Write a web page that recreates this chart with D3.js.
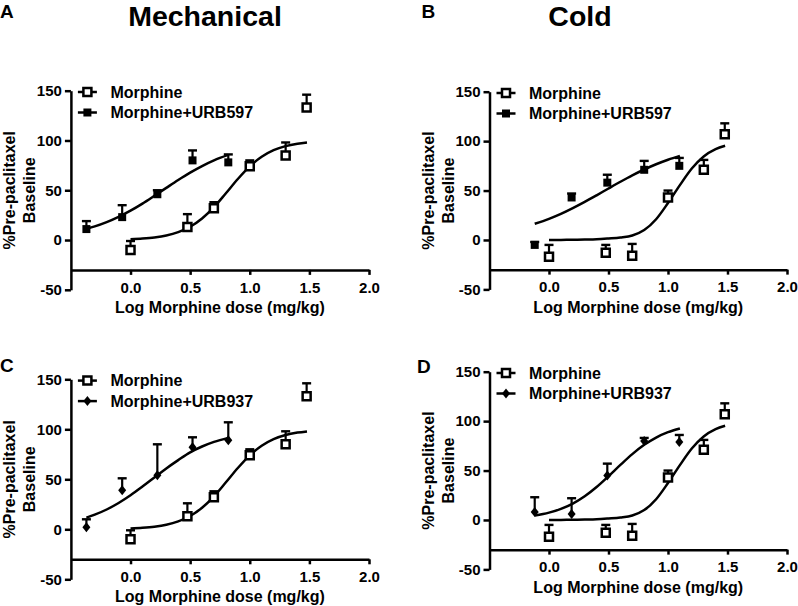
<!DOCTYPE html>
<html><head><meta charset="utf-8">
<script src="https://cdn.jsdelivr.net/npm/d3@7"></script>
<style>
body{margin:0;background:#fff;}
svg text{font-family:"Liberation Sans",Arial,Helvetica,sans-serif;font-weight:bold;fill:#000;}
</style></head><body>
<svg id="c" width="798" height="606"></svg>
<script>
// ---------- data ----------
const xTicks = [0, 0.5, 1.0, 1.5, 2.0];
const yTicks = [-50, 0, 50, 100, 150];
const panelLetters = ["A", "B", "C", "D"];
const columnTitles = ["Mechanical", "Cold"];
const seriesNames = ["Morphine", "Morphine+URB597", "Morphine+URB937"];

const morphDose = [0, 0.477, 0.699, 1.0, 1.301, 1.477];
const mechMorph = [-10, 13, 32, 74, 85, 133];
const mechMorphErr = [9, 13, 6, 6, 13, 13];
const mechMorphFitX = [0, 0.1, 0.2, 0.3, 0.4, 0.5, 0.6, 0.7, 0.8, 0.9, 1.0, 1.1, 1.2, 1.3, 1.4, 1.48];
const mechMorphFitY = [0.8, 1.5, 2.6, 4.5, 7.9, 13.3, 21.6, 33, 47, 61.3, 74, 83.6, 90.2, 94.3, 96.7, 97.9];

const mechComboDose = [-0.37, -0.07, 0.225, 0.52, 0.82];
const mechURB597 = [11, 23, 46, 80, 78];
const mechURB597Err = [8, 12, 4, 10, 8];
const mechComboFitX = [-0.37, -0.3, -0.2, -0.1, 0, 0.1, 0.2, 0.3, 0.4, 0.5, 0.6, 0.7, 0.82];
const mechURB597FitY = [11.3, 13.7, 18.0, 23.3, 29.5, 36.6, 44.4, 52.4, 60.3, 67.7, 74.3, 80.0, 85.5];
const mechURB937 = [2, 39, 54, 82, 89];
const mechURB937Err = [8, 12, 31, 10, 18];
const mechURB937FitY = [11.6, 14.6, 19.8, 26.3, 34.0, 42.7, 51.8, 60.9, 69.2, 77.0, 82.8, 87.4, 91.4];

const coldMorph = [-17, -13, -16, 43, 71, 107];
const coldMorphErr = [12, 8, 12, 7, 10, 11];
const coldMorphFitX = [0, 0.1, 0.2, 0.3, 0.4, 0.5, 0.6, 0.7, 0.8, 0.9, 1.0, 1.1, 1.2, 1.3, 1.4, 1.48];
const coldMorphFitY = [0, 0.1, 0.2, 0.4, 0.7, 1.5, 2.5, 4.5, 10, 21, 37.4, 55.5, 72.3, 84.5, 91.9, 95.3];

const coldComboDose = [-0.12, 0.19, 0.49, 0.80, 1.095];
const coldURB597 = [-5, 43, 58, 71, 75];
const coldURB597Err = [3, 4, 8, 9, 8];
const coldComboFitX = [-0.12, 0, 0.1, 0.2, 0.3, 0.4, 0.5, 0.6, 0.7, 0.8, 0.9, 1.0, 1.1];
const coldURB597FitY = [16.4, 21.4, 26.4, 32.2, 38.5, 45.2, 52.1, 58.9, 65.4, 71.3, 76.6, 81.2, 85.1];
const coldURB937 = [8, 6, 45, 80, 79];
const coldURB937Err = [15, 16, 12, 3, 7];
const coldURB937FitY = [4.4, 7.4, 11.2, 16.6, 24.0, 33.4, 44.3, 55.7, 66.6, 76.0, 83.4, 88.8, 92.6];

// ---------- drawing ----------
const svg = d3.select("#c");
const SW = 2.5;

function markerPath(type) {
  if (type === "diamond") return "M0,-5L4,0L0,5L-4,0Z";
  return "M-4,-4H4V4H-4Z";
}

function drawMarker(g, type, cx, cy) {
  const p = g.append("path").attr("d", markerPath(type))
    .attr("transform", `translate(${cx},${cy})`);
  if (type === "open") p.attr("fill", "#fff").attr("stroke", "#000").attr("stroke-width", SW);
  else p.attr("fill", "#000").attr("stroke", "none");
}

function drawSeries(g, x, y, xs, ys, errs, fitX, fitY, type) {
  const line = d3.line().x((d, i) => x(fitX[i])).y(d => y(d)).curve(d3.curveMonotoneX);
  g.append("path").datum(fitY).attr("d", line)
    .attr("fill", "none").attr("stroke", "#000").attr("stroke-width", SW);
  xs.forEach((xv, i) => {
    const px = x(xv), py = y(ys[i]), pe = y(ys[i] + errs[i]);
    g.append("line").attr("x1", px).attr("x2", px).attr("y1", py).attr("y2", pe)
      .attr("stroke", "#000").attr("stroke-width", 2.2);
    g.append("line").attr("x1", px - 4.5).attr("x2", px + 4.5).attr("y1", pe).attr("y2", pe)
      .attr("stroke", "#000").attr("stroke-width", 2.4);
  });
  xs.forEach((xv, i) => drawMarker(g, type, x(xv), y(ys[i])));
}

function panel(cfg) {
  const g = svg.append("g");
  const x = d3.scaleLinear().domain([-0.5, 2]).range(cfg.xr);
  const y = d3.scaleLinear().domain([-50, 150]).range(cfg.yr);

  const ya = d3.axisLeft(y).tickValues(yTicks).tickSize(6).tickSizeOuter(0).tickPadding(3).tickFormat(d => String(d));
  const yg = g.append("g").attr("transform", `translate(${cfg.xr[0]},0)`).call(ya);
  yg.attr("font-size", 15);
  const xa = d3.axisBottom(x).tickValues(xTicks).tickSize(5).tickSizeOuter(0).tickPadding(7).tickFormat(d3.format(".1f"));
  const xg = g.append("g").attr("transform", `translate(0,${y(-30)})`).call(xa);
  xg.attr("font-size", 15);
  [yg, xg].forEach(a => {
    a.select(".domain").attr("stroke-width", SW).attr("stroke", "#000");
    a.selectAll(".tick line").attr("stroke-width", SW).attr("stroke", "#000");
    a.selectAll(".tick text").attr("fill", "#000");
  });
  g.append("text").attr("x", (cfg.xr[0] + cfg.xr[1]) / 2).attr("y", y(-30) + 43)
    .attr("text-anchor", "middle").attr("font-size", 16).text("Log Morphine dose (mg/kg)");
  const yc = y(50);
  g.append("text").attr("transform", `translate(${cfg.xr[0] - 56},${yc}) rotate(-90)`)
    .attr("text-anchor", "middle").attr("font-size", 16).text("%Pre-paclitaxel");
  g.append("text").attr("transform", `translate(${cfg.xr[0] - 36},${yc}) rotate(-90)`)
    .attr("text-anchor", "middle").attr("font-size", 16).text("Baseline");

  drawSeries(g, x, y, morphDose, cfg.morph, cfg.morphErr, cfg.morphFitX, cfg.morphFitY, "open");
  drawSeries(g, x, y, cfg.comboX, cfg.combo, cfg.comboErr, cfg.comboFitX, cfg.comboFitY, cfg.comboType);

  const legendRows = [[seriesNames[0], "open"], [cfg.comboName, cfg.comboType]];
  legendRows.forEach((r, i) => {
    const base = y(150) + 7 + i * 20.5;
    const my = base - 5.7;
    g.append("line").attr("x1", cfg.xr[0] + 7).attr("x2", cfg.xr[0] + 26).attr("y1", my).attr("y2", my)
      .attr("stroke", "#000").attr("stroke-width", SW);
    drawMarker(g, r[1], cfg.xr[0] + 16.5, my);
    g.append("text").attr("x", cfg.xr[0] + 39.5).attr("y", base).attr("font-size", 16).text(r[0]);
  });

  svg.append("text").attr("x", cfg.letterPos[0]).attr("y", cfg.letterPos[1]).attr("font-size", 19).text(cfg.letter);
}

panel({xr: [70.9, 369], yr: [289.8, 90.7], letter: panelLetters[0], letterPos: [0, 17.5],
  morph: mechMorph, morphErr: mechMorphErr, morphFitX: mechMorphFitX, morphFitY: mechMorphFitY,
  comboX: mechComboDose, combo: mechURB597, comboErr: mechURB597Err, comboFitX: mechComboFitX, comboFitY: mechURB597FitY,
  comboType: "filled", comboName: seriesNames[1]});
panel({xr: [489.5, 787], yr: [289.4, 91.7], letter: panelLetters[1], letterPos: [421.5, 17.5],
  morph: coldMorph, morphErr: coldMorphErr, morphFitX: coldMorphFitX, morphFitY: coldMorphFitY,
  comboX: coldComboDose, combo: coldURB597, comboErr: coldURB597Err, comboFitX: coldComboFitX, comboFitY: coldURB597FitY,
  comboType: "filled", comboName: seriesNames[1]});
panel({xr: [70.9, 369], yr: [579.3, 379.3], letter: panelLetters[2], letterPos: [0, 372],
  morph: mechMorph, morphErr: mechMorphErr, morphFitX: mechMorphFitX, morphFitY: mechMorphFitY,
  comboX: mechComboDose, combo: mechURB937, comboErr: mechURB937Err, comboFitX: mechComboFitX, comboFitY: mechURB937FitY,
  comboType: "diamond", comboName: seriesNames[2]});
panel({xr: [489.5, 787], yr: [569.4, 371.7], letter: panelLetters[3], letterPos: [417, 372.5],
  morph: coldMorph, morphErr: coldMorphErr, morphFitX: coldMorphFitX, morphFitY: coldMorphFitY,
  comboX: coldComboDose, combo: coldURB937, comboErr: coldURB937Err, comboFitX: coldComboFitX, comboFitY: coldURB937FitY,
  comboType: "diamond", comboName: seriesNames[2]});

svg.append("text").attr("x", 205).attr("y", 26).attr("text-anchor", "middle").attr("font-size", 28.5).text(columnTitles[0]);
svg.append("text").attr("x", 580).attr("y", 26).attr("text-anchor", "middle").attr("font-size", 28.5).text(columnTitles[1]);
</script>
</body></html>
